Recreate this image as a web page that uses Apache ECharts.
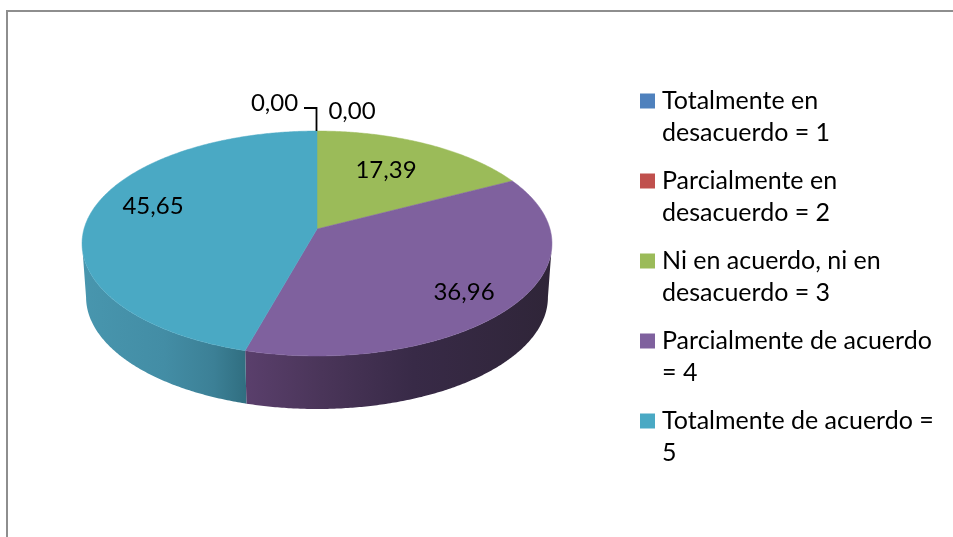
<!DOCTYPE html>
<html>
<head>
<meta charset="utf-8">
<style>html,body{margin:0;padding:0;background:#fff}#c{width:953px;height:537px}</style>
<script src="https://cdn.jsdelivr.net/npm/echarts@6/dist/echarts.min.js"></script>
</head>
<body>
<div id="c"></div>
<script>
// Data
const categories = [
  'Totalmente en\ndesacuerdo = 1',
  'Parcialmente en\ndesacuerdo = 2',
  'Ni en acuerdo, ni en\ndesacuerdo = 3',
  'Parcialmente de acuerdo\n= 4',
  'Totalmente de acuerdo =\n5'
];
const values = [0.00, 0.00, 17.39, 36.96, 45.65];
const colors = ['#4F81BD', '#C0504D', '#9BBB59', '#7F619E', '#4AA9C4'];

// Layout of the tilted disc (perspective projection of a cylinder)
const FONT = 'Lato';
const CX = 317, K = 0.129;
const TOP = {r: 233, y0: 229, b: 110.6};
const BOT = {r: 229, y0: 282.7, b: 110};
const labelPos = [[274.5, 103], [352, 111], [386, 170], [464, 292], [153, 206.5]];
const wallStops = [
  null, null, null,
  [[0, '#5A3F6C'], [0.25, '#4A3559'], [0.55, '#382A47'], [1, '#2F2538']],
  [[0, '#4896AE'], [0.5, '#438DA5'], [0.8, '#3C8096'], [1, '#306E80']]
];
const total = values.reduce((a, b) => a + b, 0);
const startOf = i => values.slice(0, i).reduce((a, b) => a + b, 0) / total * 360;

function project(p, deg, rad) {
  const t = deg * Math.PI / 180;
  const X = Math.sin(t) * rad, Y = Math.cos(t) * rad;
  const w = 1 + K * Y;
  return [CX + p.r * X / w, p.y0 - p.b * Y / w];
}
function arc(p, a, b) {
  const pts = [], n = Math.max(1, Math.ceil(Math.abs(b - a) * 2));
  for (let i = 0; i <= n; i++) pts.push(project(p, a + (b - a) * i / n, 1));
  return pts;
}
const VIS_A = Math.acos(-K) * 180 / Math.PI, VIS_B = 360 - VIS_A;

function renderSlice(i, api) {
  const v = api.value(1);
  const a = startOf(i), b = a + v / total * 360;
  const children = [];
  const wa = Math.max(a, VIS_A), wb = Math.min(b, VIS_B);
  if (v > 0 && wb > wa && wallStops[i]) {
    children.push({
      type: 'polygon', z2: 1,
      shape: {points: arc(TOP, wa, wb).concat(arc(BOT, wa, wb).reverse())},
      style: {
        fill: new echarts.graphic.LinearGradient(0, 0, 1, 0,
          wallStops[i].map(s => ({offset: s[0], color: s[1]})))
      }
    });
  }
  if (v > 0) {
    children.push({
      type: 'polygon', z2: 2,
      shape: {points: [project(TOP, 0, 0)].concat(arc(TOP, a, b))},
      style: {fill: colors[i], stroke: colors[i], lineWidth: 0.5}
    });
  }
  if (i === 0) {
    children.push({
      type: 'polyline', z2: 3,
      shape: {points: [[304, 108], [316.5, 108], [316.5, 131]]},
      style: {fill: 'none', stroke: '#000', lineWidth: 1.8}
    });
  }
  children.push({
    type: 'text', z2: 4,
    x: labelPos[i][0], y: labelPos[i][1],
    style: {
      text: v.toFixed(2).replace('.', ','),
      font: '24px ' + FONT, fill: '#000',
      align: 'center', verticalAlign: 'middle'
    }
  });
  return {type: 'group', children};
}

const chart = echarts.init(document.getElementById('c'), null, {renderer: 'canvas'});
chart.setOption({
  animation: false,
  backgroundColor: '#fff',
  graphic: [{
    type: 'rect', silent: true,
    shape: {x: 7, y: 11, width: 1000, height: 600},
    style: {fill: 'none', stroke: '#8E8E8E', lineWidth: 2}
  }],
  legend: {
    orient: 'vertical',
    left: 640, top: 53, padding: 0,
    itemWidth: 15, itemHeight: 15, itemGap: -16,
    icon: 'rect',
    selectedMode: false,
    data: categories,
    formatter: n => '\n' + n,
    textStyle: {
      fontFamily: FONT, fontSize: 25, lineHeight: 32, color: '#000',
      padding: [0, 0, 0, 2]
    }
  },
  series: categories.map((name, i) => ({
    type: 'custom',
    name,
    coordinateSystem: 'none',
    silent: true,
    itemStyle: {color: colors[i]},
    data: [[i, values[i]]],
    renderItem: (params, api) => renderSlice(i, api)
  }))
});
</script>
</body>
</html>
